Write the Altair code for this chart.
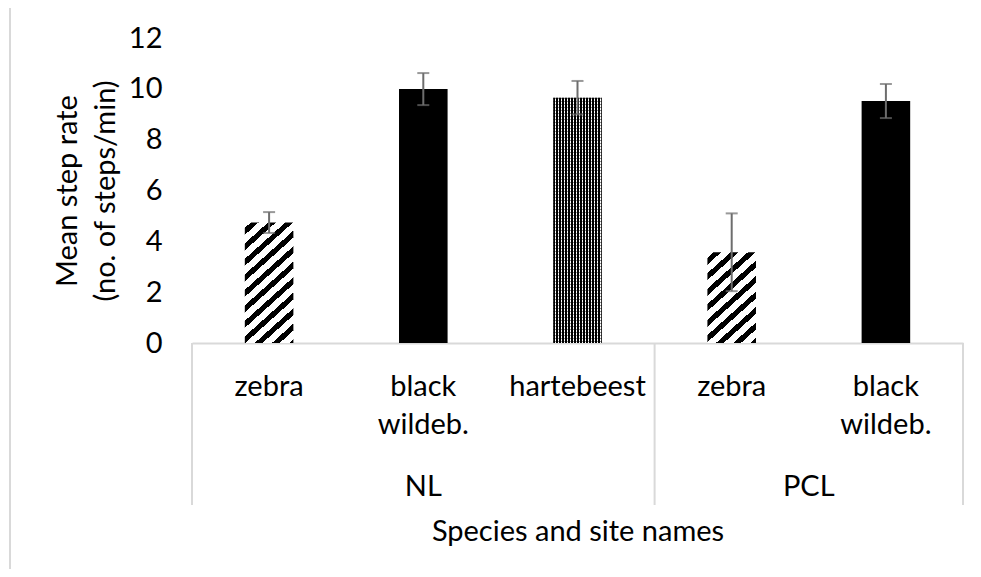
import math
import altair as alt
import pandas as pd

# ---------------- data ----------------
species = ["zebra", "black wildeb.", "hartebeest", "zebra", "black wildeb."]
sites = ["NL", "NL", "NL", "PCL", "PCL"]
mean_rate = [4.74, 9.99, 9.65, 3.57, 9.52]
std_err = [0.41, 0.63, 0.66, 1.53, 0.67]
y_ticks = [0, 2, 4, 6, 8, 10, 12]
y_title = ["Mean step rate", "(no. of steps/min)"]
x_title = "Species and site names"

# ---------------- layout / style ----------------
W, H = 771, 305
YMAX = 12
PAD_INNER = 0.685
FONT = "Lato"
FS = 29
LINE = "#d9d9d9"
ERR = "#6d6d6d"

keys = [f"{s}|{sp}" for s, sp in zip(sites, species)]
df = pd.DataFrame({"key": keys, "species": species, "site": sites,
                   "mean": mean_rate, "err": std_err})
df["lo"] = df["mean"] - df["err"]
df["hi"] = df["mean"] + df["err"]

site_names, starts, ends = [], [], []
for i, s in enumerate(sites):
    if not site_names or site_names[-1] != s:
        site_names.append(s); starts.append(i); ends.append(i + 1)
    else:
        ends[-1] = i + 1
site_df = pd.DataFrame({"site": site_names,
                        "center": [(a + b) / 2 for a, b in zip(starts, ends)]})
bounds_df = pd.DataFrame({"b": sorted(set(starts + ends))})

step = W / len(keys)
bw = step * (1 - PAD_INNER)


def stripe_stops(D, period, dark_frac, dark, light, phase=0.0):
    stops = []
    pos = -period + (phase % period)
    while pos < D:
        for a, b, c in ((pos, pos + dark_frac * period, dark),
                        (pos + dark_frac * period, pos + period, light)):
            a2, b2 = max(a, 0.0), min(b, D)
            if b2 > a2:
                stops.append({"offset": round(a2 / D, 5), "color": c})
                stops.append({"offset": round(b2 / D, 5), "color": c})
        pos += period
    return stops


def diagonal_fill(value, angle_deg=42, v_period=15.5, dark_frac=0.45):
    h = value / YMAX * H
    th = math.radians(angle_deg)
    s, c = math.sin(th), math.cos(th)
    D = s * bw + c * h
    k = D / ((s * bw) ** 2 + (c * h) ** 2)
    return {"gradient": "linear", "x1": 0, "y1": 0,
            "x2": k * s * bw, "y2": k * c * h,
            "stops": stripe_stops(D, v_period * c, dark_frac, "#000000", "#ffffff", phase=4)}


def vertical_fill(period=3.0):
    return {"gradient": "linear", "x1": 0, "y1": 0, "x2": 1, "y2": 0,
            "stops": stripe_stops(bw, period, 0.5, "#000000", "#ffffff")}


def horizontal_overlay(value, period=3.0):
    h = value / YMAX * H
    return {"gradient": "linear", "x1": 0, "y1": 0, "x2": 0, "y2": 1,
            "stops": stripe_stops(h, period, 0.5, "rgba(0,0,0,0.45)",
                                  "rgba(255,255,255,0)")}


x_band = alt.X(
    "key:N",
    sort=keys,
    scale=alt.Scale(domain=keys, paddingInner=PAD_INNER, paddingOuter=PAD_INNER / 2),
    axis=alt.Axis(
        labelExpr="split(split(datum.label, '|')[1], ' ')",
        labelFontSize=FS, labelLineHeight=38, labelBaseline="top",
        labelPadding=29, labelAngle=0, labelColor="#000000",
        labelOverlap=False, labelFlush=False,
        ticks=False, tickSize=0, grid=False,
        domainColor=LINE, domainWidth=2,
        title=x_title, titleFontSize=FS, titleFontWeight="normal",
        titleColor="#000000", titleX=W / 2, titleY=197,
        titleBaseline="alphabetic", titleAlign="center",
    ),
)
y_enc = alt.Y(
    "mean:Q",
    scale=alt.Scale(domain=[0, YMAX], nice=False),
    axis=alt.Axis(
        values=y_ticks, grid=False, ticks=False, domain=False,
        labelFontSize=FS, labelPadding=30, labelColor="#000000",
        title=y_title, titleFontSize=FS, titleFontWeight="normal",
        titleColor="#000000", titleLineHeight=38,
        titleX=-125, titleY=H / 2, titleBaseline="middle",
        titleAlign="center", titleAngle=270,
    ),
)

base = alt.Chart(df)
bar_layers = []
for k, sp, v in zip(keys, species, mean_rate):
    sel = base.transform_filter(alt.datum.key == k)
    if sp == "zebra":
        bar_layers.append(sel.mark_bar(fill=diagonal_fill(v)).encode(x=x_band, y=y_enc))
    elif sp == "hartebeest":
        bar_layers.append(sel.mark_bar(fill=vertical_fill()).encode(x=x_band, y=y_enc))
        bar_layers.append(sel.mark_bar(fill=horizontal_overlay(v)).encode(x=x_band, y=y_enc))
    else:
        bar_layers.append(sel.mark_bar(fill="#000000").encode(x=x_band, y=y_enc))

err_rule = base.mark_rule(color=ERR, strokeWidth=2).encode(
    x=x_band, y=alt.Y("lo:Q"), y2="hi:Q")
cap_lo = base.mark_tick(color=ERR, size=12, thickness=2).encode(x=x_band, y=alt.Y("lo:Q"))
cap_hi = base.mark_tick(color=ERR, size=12, thickness=2).encode(x=x_band, y=alt.Y("hi:Q"))

bars_group = alt.layer(*bar_layers, err_rule, cap_lo, cap_hi)

x_lin = alt.Scale(domain=[0, len(keys)], nice=False, zero=False)
box_rules = alt.Chart(bounds_df).mark_rule(color=LINE, strokeWidth=2).encode(
    x=alt.X("b:Q", scale=x_lin, axis=None),
    y=alt.value(H), y2=alt.value(H + 162))
site_text = alt.Chart(site_df).mark_text(
    font=FONT, fontSize=FS, baseline="alphabetic", align="center", color="#000000"
).encode(x=alt.X("center:Q", scale=x_lin, axis=None), y=alt.value(H + 153), text="site:N")
frame = alt.Chart(pd.DataFrame({"f": [0]})).mark_rect(
    fill="transparent", stroke=LINE, strokeWidth=2
).encode(x=alt.value(-182), x2=alt.value(820), y=alt.value(-32), y2=alt.value(H + 260))

deco = alt.layer(frame, box_rules, site_text)

chart = alt.layer(bars_group, deco).resolve_scale(x="independent").properties(
    width=W, height=H,
    padding={"left": 184, "top": 30, "right": 10, "bottom": 226},
    autosize=alt.AutoSizeParams(type="none"),
    background="#ffffff",
).configure(font=FONT).configure_view(stroke=None)

chart.save("out.html", embed_options={"renderer": "svg", "actions": False})
